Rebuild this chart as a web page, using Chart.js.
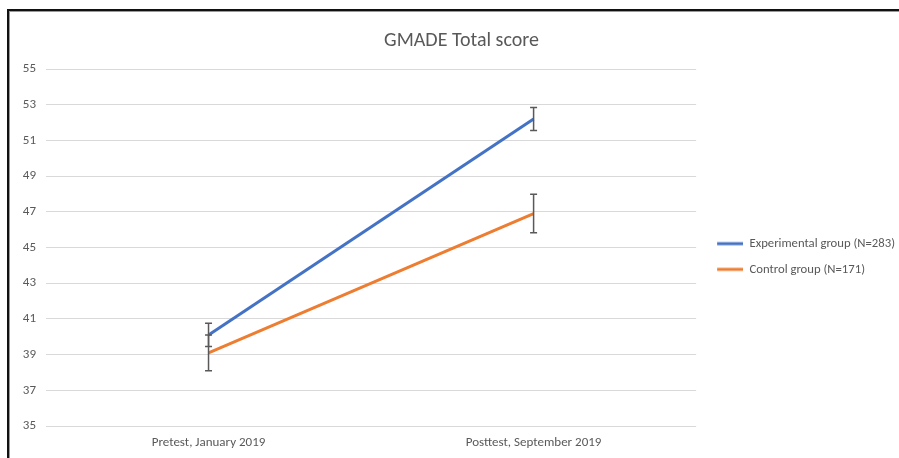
<!DOCTYPE html>
<html>
<head>
<meta charset="utf-8">
<script src="https://cdn.jsdelivr.net/npm/chart.js@4/dist/chart.umd.min.js"></script>
<style>
  html, body { margin: 0; padding: 0; background: #fff; overflow: hidden; width: 899px; height: 458px; }
  #frame { position: absolute; left: 7px; top: 9px; width: 920px; height: 470px; border-top: 2px solid #111; border-left: 2px solid #111; box-shadow: inset 1px 1px 0 #999; }
  #wrap { position: absolute; left: 10px; top: 12px; width: 902px; height: 446px; }
</style>
</head>
<body>
<div id="frame"></div>
<div id="wrap"><canvas id="c"></canvas></div>
<script>
const categories = ["Pretest, January 2019", "Posttest, September 2019"];
const experimental = [40.1, 52.2];
const control = [39.1, 46.9];
const experimentalError = [0.65, 0.65];
const controlError = [1.0, 1.08];
const seriesNames = ["Experimental group (N=283)", "Control group (N=171)"];
const seriesColors = ['#4472C4', '#ED7D31'];

const FONT = "Carlito, Lato, 'Open Sans', sans-serif";
const TEXT = "#595959";

// legend marker: a short line sitting at the right part of a wider box
function legendMarker(color) {
  const c = document.createElement('canvas');
  c.width = 34; c.height = 6;
  const g = c.getContext('2d');
  g.strokeStyle = color; g.lineWidth = 3;
  g.beginPath(); g.moveTo(8, 3); g.lineTo(34, 3); g.stroke();
  return c;
}

const errorBars = {
  id: 'errorBars',
  afterDatasetsDraw(chart) {
    const ctx = chart.ctx;
    const y = chart.scales.y;
    const errs = [experimentalError, controlError];
    ctx.save();
    ctx.strokeStyle = '#595959';
    ctx.lineWidth = 1.5;
    chart.data.datasets.forEach((ds, di) => {
      const meta = chart.getDatasetMeta(di);
      meta.data.forEach((pt, i) => {
        const v = ds.data[i], e = errs[di][i];
        const x = pt.x;
        const yt = y.getPixelForValue(v + e);
        const yb = y.getPixelForValue(v - e);
        ctx.beginPath();
        ctx.moveTo(x, yt); ctx.lineTo(x, yb);
        ctx.moveTo(x - 3.5, yt); ctx.lineTo(x + 3.5, yt);
        ctx.moveTo(x - 3.5, yb); ctx.lineTo(x + 3.5, yb);
        ctx.stroke();
      });
    });
    ctx.restore();
  }
};

new Chart(document.getElementById('c'), {
  type: 'line',
  data: {
    labels: categories,
    datasets: [
      { label: seriesNames[0], data: experimental, borderColor: seriesColors[0], backgroundColor: seriesColors[0], borderWidth: 3, pointRadius: 0, pointStyle: legendMarker(seriesColors[0]), tension: 0 },
      { label: seriesNames[1], data: control, borderColor: seriesColors[1], backgroundColor: seriesColors[1], borderWidth: 3, pointRadius: 0, pointStyle: legendMarker(seriesColors[1]), tension: 0 }
    ]
  },
  options: {
    responsive: true,
    maintainAspectRatio: false,
    animation: false,
    layout: { padding: { left: 8, right: 7, top: 0, bottom: 0 } },
    plugins: {
      title: { display: true, text: 'GMADE Total score', color: TEXT, font: { family: FONT, size: 20, weight: 'normal' }, padding: { top: 17, bottom: 16 } },
      legend: {
        position: 'right',
        align: 'center',
        title: { display: true, text: ' ', font: { size: 10, lineHeight: 1 }, padding: { top: 33, bottom: 0 } },
        labels: { usePointStyle: true, pointStyleWidth: 34, color: TEXT, font: { family: FONT, size: 12.7 }, padding: 13 }
      },
      tooltip: { enabled: false }
    },
    scales: {
      x: {
        offset: true,
        grid: { display: false, drawTicks: false },
        border: { display: false },
        ticks: { color: TEXT, font: { family: FONT, size: 13 }, padding: 9 },
        afterFit(s) { s.height = 32; }
      },
      y: {
        min: 35, max: 55,
        grid: { color: '#D9D9D9', lineWidth: 1, drawTicks: false },
        border: { display: false },
        ticks: { stepSize: 2, color: TEXT, font: { family: FONT, size: 13 }, padding: 10 },
        afterFit(s) { s.width = 28; }
      }
    }
  },
  plugins: [errorBars]
});
</script>
</body>
</html>
